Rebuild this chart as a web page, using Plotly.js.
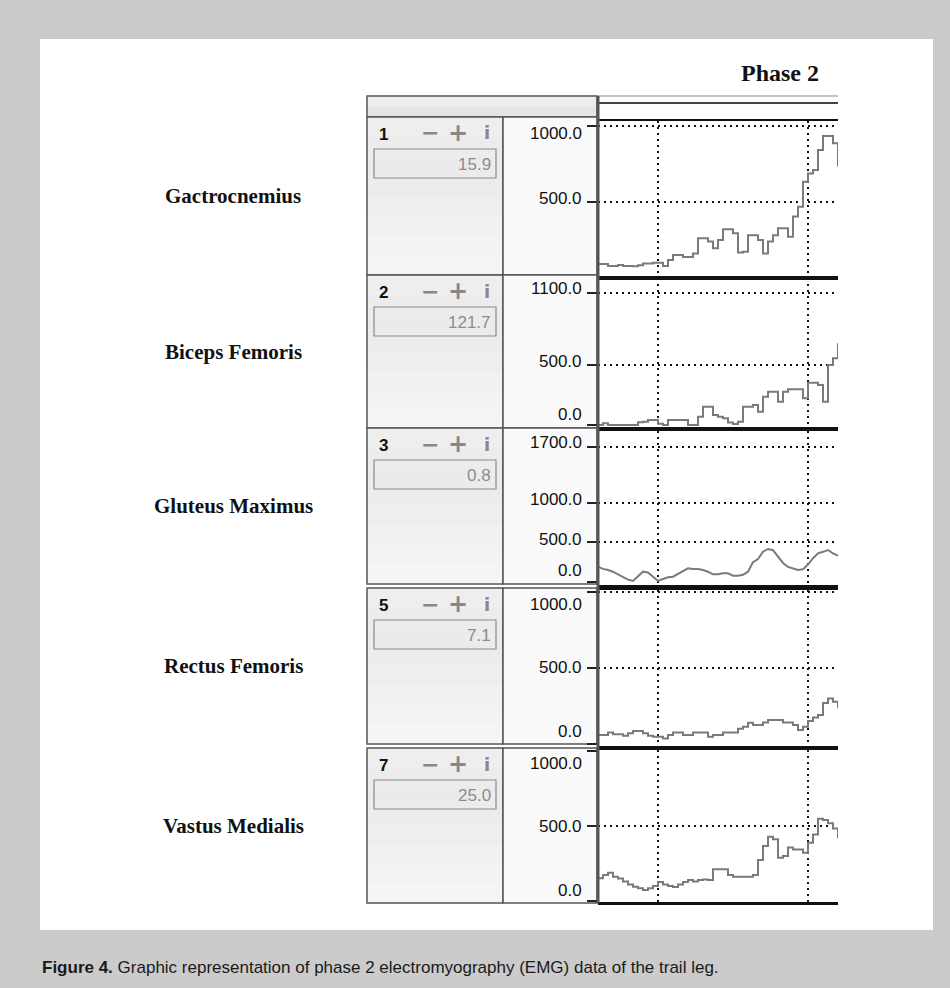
<!DOCTYPE html>
<html><head><meta charset="utf-8">
<script src="https://cdn.plot.ly/plotly-3.0.1.min.js"></script>
<style>html,body{margin:0;padding:0;background:#cbcbcb;}#chart{width:950px;height:988px;}</style>
</head><body><div id="chart"></div>
<script>
// ---------- data ----------
const muscles = ["Gactrocnemius", "Biceps Femoris", "Gluteus Maximus", "Rectus Femoris", "Vastus Medialis"];
const channelIds = ["1", "2", "3", "5", "7"];
const channelReadouts = ["15.9", "121.7", "0.8", "7.1", "25.0"];
const gridValues = [[500, 1000], [500, 1100], [500, 1000, 1700], [500, 1000], [500, 1000]];
const tickValues = [[0, 500, 1000], [0, 500, 1100], [0, 500, 1000, 1700], [0, 500, 1000], [0, 500, 1000]];
const tickLabels = [["0.0", "500.0", "1000.0"], ["0.0", "500.0", "1100.0"], ["0.0", "500.0", "1000.0", "1700.0"], ["0.0", "500.0", "1000.0"], ["0.0", "500.0", "1000.0"]];
const sampleIndex = [0,1,2,3,4,5,6,7,8,9,10,11,12,13,14,15,16,17,18,19,20,21,22,23,24,25,26,27,28,29,30,31,32,33,34,35,36,37,38,39,40,41,42,43,44,45,46,47,48];
const timeMarkers = [12, 42];
const gastrocnemius = [92,92,79,79,86,79,79,77,84,95,95,100,100,79,118,151,151,138,138,162,261,261,240,196,250,320,320,295,167,173,282,282,250,162,240,282,327,327,272,404,469,634,688,711,842,934,934,886,733];
const bicepsFemoris = [0,14,0,0,0,0,0,0,22,28,42,42,10,0,42,42,42,42,0,0,69,153,153,83,69,56,20,8,28,153,153,167,111,236,278,278,194,278,297,297,297,222,353,353,333,194,500,556,681];
const gluteusMaximus = [193,165,151,130,97,60,30,13,67,130,120,70,13,38,60,67,100,130,172,164,164,150,130,97,97,109,109,80,80,90,130,250,290,382,416,400,320,240,190,172,151,160,220,300,361,380,403,361,332];
const rectusFemoris = [59,59,75,64,64,55,70,86,86,70,55,48,48,37,59,75,75,59,59,75,75,75,48,59,59,75,75,75,100,114,140,125,125,142,158,158,158,142,142,125,92,114,151,175,191,270,300,278,235];
const vastusMedialis = [151,173,189,162,150,130,110,95,85,73,85,100,127,110,100,93,110,127,140,130,140,144,140,211,211,211,173,162,162,162,162,173,273,367,429,411,289,300,356,344,344,322,389,444,549,540,518,484,418];
const series = [gastrocnemius, bicepsFemoris, gluteusMaximus, rectusFemoris, vastusMedialis];

// ---------- geometry (pixels) ----------
const W = 950, H = 988;
const px = x => x / W, py = y => 1 - y / H;
const plotX0 = 598, plotX1 = 838;
const panels = [
  {top:121, bottom:277, zero:278, refV:1000, refP:126, rowTop:117, rowBot:275},
  {top:278, bottom:427, zero:425, refV:1100, refP:293, rowTop:275, rowBot:428},
  {top:431, bottom:585, zero:582, refV:1700, refP:447, rowTop:428, rowBot:584},
  {top:590, bottom:746, zero:744, refV:1000, refP:592, rowTop:588, rowBot:744},
  {top:750, bottom:902, zero:901, refV:1000, refP:751, rowTop:748, rowBot:903}
];
const labelShift = [[14,3,-8],[10,3,4],[12,3,3,5],[13,1,-12],[11,0,-12]];
const bandColors = ['#eeeeee','#ececec','#ebebeb','#ececec','#eeeeee','#f1f1f1','#f3f3f3','#f5f5f5'];

const traces = [], shapes = [], annotations = [];
const layout = {
  width: W, height: H, margin:{l:0,r:0,t:0,b:0},
  paper_bgcolor:'#cbcbcb', plot_bgcolor:'#ffffff', showlegend:false,
  shapes: shapes, annotations: annotations
};
const sans = 'Liberation Sans, Arial, sans-serif';
const serif = 'Liberation Serif, Times New Roman, serif';
function label(x, y, text, xanchor, font){
  annotations.push({xref:'paper', yref:'paper', x:px(x), y:py(y), xanchor:xanchor, yanchor:'middle',
    text:text, showarrow:false, font:font});
}
function rect(x0, y0, x1, y1, fill, line, layer){
  shapes.push({type:'rect', xref:'paper', yref:'paper', x0:px(x0), x1:px(x1), y0:py(y1), y1:py(y0),
    fillcolor:fill, line:line || {width:0}, layer:layer || 'below'});
}

// white page panel
rect(40, 39, 933, 930, '#ffffff');
// header row
rect(367, 96, 597, 117, '#ededed', {color:'#555', width:1.5});
rect(368, 107, 596, 116, '#e4e4e4');
shapes.push({type:'line', xref:'paper', yref:'paper', x0:px(597), x1:px(838), y0:py(96), y1:py(96), line:{color:'#888', width:1.2}});
shapes.push({type:'line', xref:'paper', yref:'paper', x0:px(597), x1:px(838), y0:py(103), y1:py(103), line:{color:'#444', width:2}});

label(780, 73, '<b>Phase 2</b>', 'center', {family:serif, size:24, color:'#111'});
label(40, 967, '<b>Figure 4.</b> Graphic representation of phase 2 electromyography (EMG) data of the trail leg.', 'left', {family:sans, size:17, color:'#1a1a1a'});

panels.forEach((p, k) => {
  const n = k + 1;
  const s = (p.zero - p.refP) / p.refV; // px per unit
  const yr = [-(p.bottom - p.zero) / s, (p.zero - p.top) / s];
  const xa = 'xaxis' + (n === 1 ? '' : n), ya = 'yaxis' + (n === 1 ? '' : n);
  const xr = 'x' + (n === 1 ? '' : n), yrf = 'y' + (n === 1 ? '' : n);
  layout[xa] = {domain:[px(plotX0), px(plotX1)], range:[0, 48], anchor:yrf, tickvals:timeMarkers,
    showgrid:true, gridcolor:'#111', griddash:'2px,4px', gridwidth:2, showticklabels:false, ticks:'',
    showline:true, mirror:true, linecolor:'#111', linewidth:2.5, zeroline:false, fixedrange:true};
  layout[ya] = {domain:[py(p.bottom), py(p.top)], range:yr, anchor:xr, tickvals:gridValues[k],
    showgrid:true, gridcolor:'#111', griddash:'2px,4px', gridwidth:2, showticklabels:false,
    ticks:'outside', ticklen:10, tickwidth:2, tickcolor:'#222', showline:false, zeroline:false, fixedrange:true,
    minor:{tickmode:'array', tickvals:[0], ticks:'outside', ticklen:10, tickwidth:2, tickcolor:'#222', showgrid:false}};
  traces.push({x:sampleIndex, y:series[k], xaxis:xr, yaxis:yrf, type:'scatter', mode:'lines',
    line:{color:'#7a7a7a', width:2, shape: k === 2 ? 'linear' : 'hv'}, hoverinfo:'skip'});

  // left cells (control cell with soft vertical gradient)
  const h = (p.rowBot - p.rowTop) / bandColors.length;
  bandColors.forEach((c, b) => rect(367, p.rowTop + b*h, 503, p.rowTop + (b+1)*h + 0.5, c));
  rect(367, p.rowTop, 503, p.rowBot, 'rgba(0,0,0,0)', {color:'#555', width:1.5});
  rect(503, p.rowTop, 597, p.rowBot, '#fafafa', {color:'#555', width:1.5});
  rect(374, p.rowTop+32, 496, p.rowTop+61, 'rgba(0,0,0,0)', {color:'#8a8a8a', width:1.2}, 'above');

  label(377, p.rowTop+17, '<b>'+channelIds[k]+'</b>', 'left', {family:sans, size:17, color:'#111'});
  [['−',430,22],['+',458,24],['i',487,18]].forEach(ic => {
    label(ic[1], p.rowTop+16, '<b>'+ic[0]+'</b>', 'center', {family:'DejaVu Sans, sans-serif', size:ic[2], color:'#888'});
  });
  label(493, p.rowTop+47, channelReadouts[k], 'right', {family:sans, size:17, color:'#8c8c8c'});
  label(233, (p.rowTop+p.rowBot)/2, '<b>'+muscles[k]+'</b>', 'center', {family:serif, size:21, color:'#111'});
  tickValues[k].forEach((v, j) => {
    annotations.push({xref:'paper', yref:yrf, x:px(584), y:v, yshift:labelShift[k][j], xanchor:'right', yanchor:'middle',
      text:tickLabels[k][j], showarrow:false, font:{family:sans, size:17, color:'#111'}});
  });
});
// thick left border of plot column
shapes.push({type:'line', xref:'paper', yref:'paper', x0:px(598), x1:px(598), y0:py(903), y1:py(96), line:{color:'#555', width:3}});

Plotly.newPlot('chart', traces, layout, {staticPlot:true});
</script></body></html>
